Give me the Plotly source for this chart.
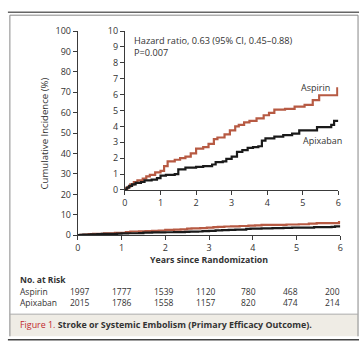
import plotly.graph_objects as go

# ---------------- data ----------------
years_ticks = [0, 1, 2, 3, 4, 5, 6]
main_y_ticks = [0, 10, 20, 30, 40, 50, 60, 70, 80, 90, 100]
inset_y_ticks = [0, 1, 2, 3, 4, 5, 6, 7, 8, 9, 10]

aspirin_t = [0, 0.03, 0.08, 0.15, 0.25, 0.35, 0.5, 0.6, 0.7, 0.85, 1.0, 1.1, 1.2,
             1.4, 1.55, 1.7, 1.85, 2.0, 2.2, 2.35, 2.5, 2.6, 2.8, 2.95, 3.1, 3.2,
             3.35, 3.5, 3.7, 3.9, 4.05, 4.2, 4.5, 4.77, 5.05, 5.28, 5.46, 5.97, 6.0]
aspirin_y = [0, 0.1, 0.2, 0.35, 0.5, 0.6, 0.72, 0.85, 0.95, 1.1, 1.2, 1.5, 1.8,
             1.9, 2.0, 2.1, 2.3, 2.6, 2.7, 2.9, 3.2, 3.3, 3.5, 3.75, 4.0, 4.1,
             4.25, 4.35, 4.5, 4.7, 4.85, 5.05, 5.1, 5.25, 5.35, 5.65, 5.96, 6.4, 6.4]

apixaban_t = [0, 0.05, 0.12, 0.2, 0.3, 0.45, 0.55, 0.75, 0.9, 1.0, 1.15, 1.4, 1.5,
              1.7, 2.0, 2.2, 2.45, 2.55, 2.75, 2.85, 3.0, 3.15, 3.3, 3.45, 3.6,
              3.75, 3.85, 3.95, 4.2, 4.45, 4.7, 4.9, 5.4, 5.8, 5.88, 6.0]
apixaban_y = [0, 0.15, 0.25, 0.35, 0.45, 0.5, 0.6, 0.65, 0.75, 0.9, 0.95, 1.0, 1.3,
              1.4, 1.45, 1.5, 1.6, 1.75, 1.8, 1.95, 2.1, 2.4, 2.5, 2.65, 2.7,
              2.75, 3.1, 3.25, 3.35, 3.45, 3.55, 3.75, 3.95, 4.1, 4.35, 4.35]

risk_aspirin = [1997, 1777, 1539, 1120, 780, 468, 200]
risk_apixaban = [2015, 1786, 1558, 1157, 820, 474, 214]

hazard_text = "Hazard ratio, 0.63 (95% CI, 0.45\u20130.88)"
p_text = "P=0.007"
caption_red = "Figure 1."
caption_rest = "Stroke or Systemic Embolism (Primary Efficacy Outcome)."

# ---------------- layout helpers ----------------
W, H = 363, 350
def px(x):
    return x / W
def py(y):
    return 1 - y / H

ASP_COL = "#b75a43"
APX_COL = "#1a1a1a"
AX_COL = "#3a3a3a"
FONT = "Open Sans"
TXT = "#333333"

fig = go.Figure()

for xa, ya in (("x", "y"), ("x2", "y2")):
    fig.add_trace(go.Scatter(x=aspirin_t, y=aspirin_y, mode="lines",
                             line=dict(color=ASP_COL, width=2.2, shape="hv"),
                             xaxis=xa, yaxis=ya, showlegend=False, hoverinfo="skip"))
    fig.add_trace(go.Scatter(x=apixaban_t, y=apixaban_y, mode="lines",
                             line=dict(color=APX_COL, width=2.2, shape="hv"),
                             xaxis=xa, yaxis=ya, showlegend=False, hoverinfo="skip"))

axis_common = dict(showgrid=False, zeroline=False, showline=True, linecolor=AX_COL, linewidth=1,
                   ticks="outside", ticklen=4, tickcolor=AX_COL, tickwidth=1,
                   tickfont=dict(family=FONT, size=9, color=TXT), fixedrange=True)

main_x_dom = [px(76), px(343)]
main_y_dom = [py(237), py(25)]
ins_x_dom = [px(124), px(341)]
ins_y_dom = [py(190), py(25)]

fig.update_layout(
    width=W, height=H,
    margin=dict(l=0, r=0, t=0, b=0),
    paper_bgcolor="white", plot_bgcolor="rgba(0,0,0,0)",
    xaxis=dict(domain=main_x_dom, range=[0, 6], tickvals=years_ticks, anchor="y", **axis_common),
    yaxis=dict(domain=main_y_dom, range=[0, 100], tickvals=main_y_ticks, anchor="x", **axis_common),
    xaxis2=dict(domain=ins_x_dom, range=[0, 6], tickvals=years_ticks, anchor="y2", **axis_common),
    yaxis2=dict(domain=ins_y_dom, range=[0, 10], tickvals=inset_y_ticks, anchor="x2", **axis_common),
)

ann = []
def add_text(text, x, y, size=8, bold=False, color=TXT, xanchor="left", angle=0):
    t = f"<b>{text}</b>" if bold else text
    ann.append(dict(text=t, x=px(x), y=py(y), xref="paper", yref="paper", xanchor=xanchor,
                    yanchor="middle", showarrow=False, textangle=angle, borderpad=0,
                    font=dict(family=FONT, size=size, color=color)))

add_text(hazard_text, 132, 34.5, size=9.2)
add_text(p_text, 132, 47, size=9.2)
add_text("Aspirin", 318, 84, size=9, xanchor="center")
add_text("Apixaban", 325, 139, size=9, xanchor="center")
add_text("Cumulative Incidence (%)", 42, 131, size=9.6, xanchor="center", angle=-90)
add_text("Years since Randomization", 209, 263, size=8.8, bold=True, xanchor="center")

# number at risk table
add_text("No. at Risk", 16, 283, size=8.5, bold=True)
add_text("Aspirin", 16, 295, size=8.5)
add_text("Apixaban", 16, 307, size=8.5)
col0, col_step = 78, 42.8
for i, (a, b) in enumerate(zip(risk_aspirin, risk_apixaban)):
    add_text(str(a), col0 + i * col_step, 295, size=8.5, xanchor="center")
    add_text(str(b), col0 + i * col_step, 307, size=8.5, xanchor="center")

# caption
ann.append(dict(text=f"<span style='color:#c1272d'>{caption_red}</span> <b>{caption_rest}</b>",
                x=px(16), y=py(330), xref="paper", yref="paper", xanchor="left", yanchor="middle",
                showarrow=False, borderpad=0, font=dict(family=FONT, size=8.9, color="#333333")))
fig.update_layout(annotations=ann)

# frame shapes
shapes = []
def rect(x0, y0, x1, y1, fill):
    shapes.append(dict(type="rect", xref="paper", yref="paper", x0=px(x0), x1=px(x1), y0=py(y1), y1=py(y0),
                       fillcolor=fill, line=dict(width=0), layer="below"))
def hline(x0, x1, y, col, lw=1):
    shapes.append(dict(type="line", xref="paper", yref="paper", x0=px(x0), x1=px(x1), y0=py(y), y1=py(y),
                       line=dict(color=col, width=lw)))
def vline(x, y0, y1, col, lw=1):
    shapes.append(dict(type="line", xref="paper", yref="paper", x0=px(x), x1=px(x), y0=py(y0), y1=py(y1),
                       line=dict(color=col, width=lw)))

rect(7, 319, 361, 342, "#efece5")
hline(5, 362, 5.5, "#666666", 1.5)
hline(7, 361, 8.5, "#888888", 1)
vline(7, 8.5, 342, "#888888", 1)
vline(361, 8.5, 342, "#888888", 1)
hline(7, 361, 319, "#aaaaaa", 1)
hline(5, 362, 345.5, "#444444", 1.5)
fig.update_layout(shapes=shapes)

fig.write_html("out.html")
